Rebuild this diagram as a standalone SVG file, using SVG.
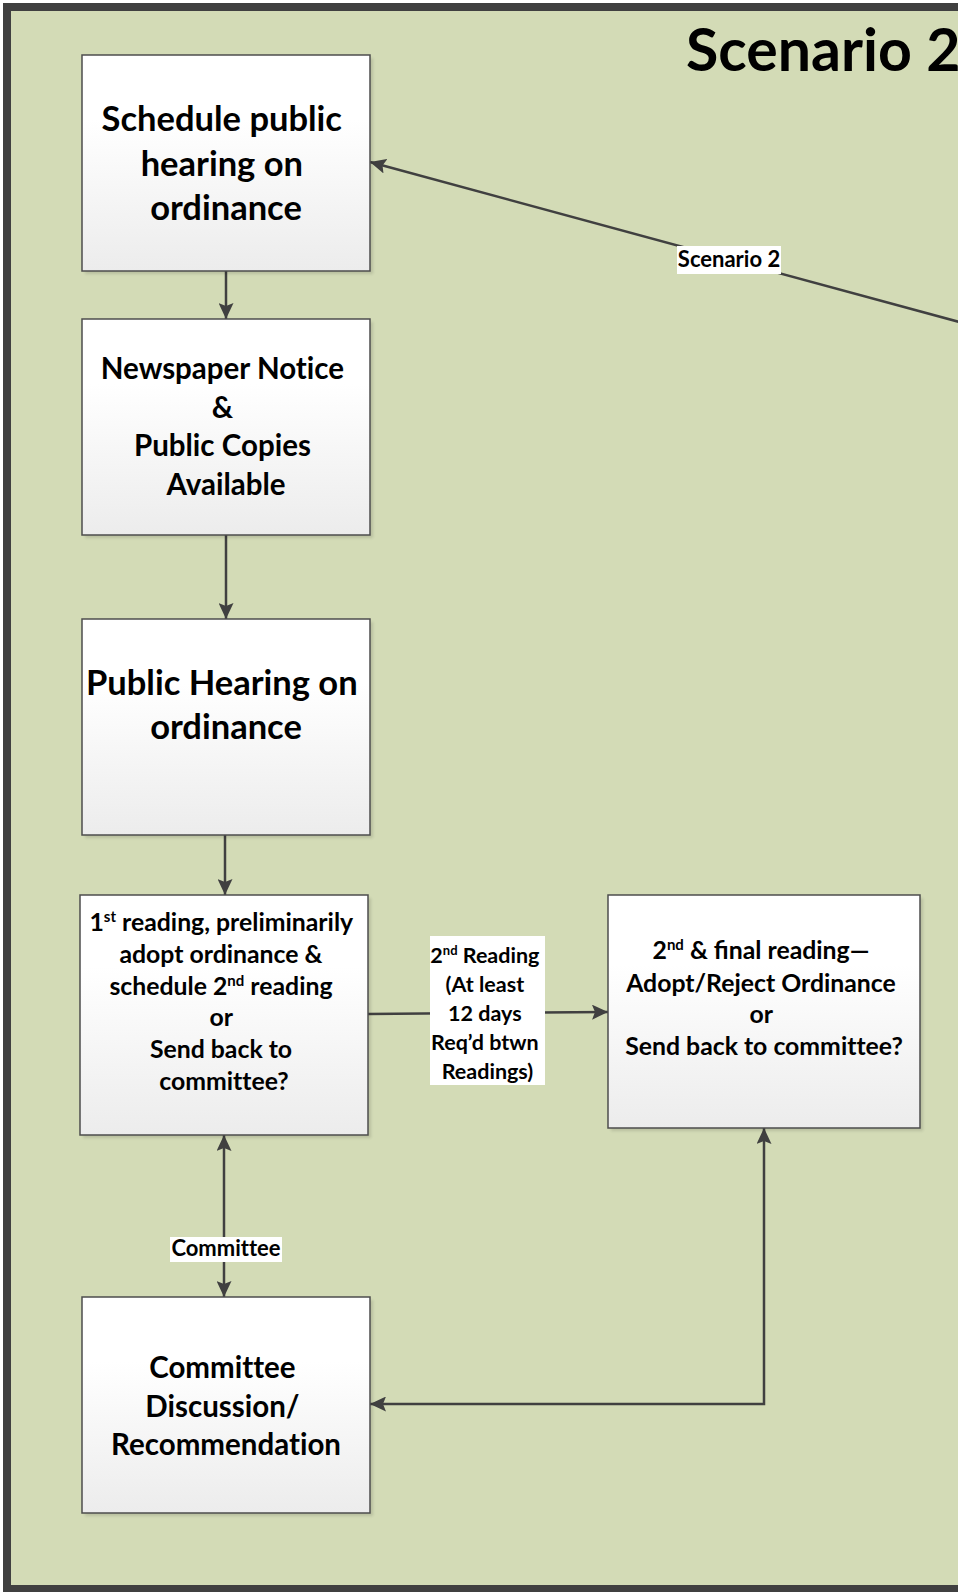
<svg xmlns="http://www.w3.org/2000/svg" width="958" height="1592" viewBox="0 0 958 1592">
<style>
  .box { fill: url(#boxGrad); stroke: #4d4d4d; stroke-width: 1.5; }
  .shadow { fill: #000; opacity: 0.12; filter: url(#blur); }
  .t { font-family: Lato, "Liberation Sans", sans-serif; font-weight: bold; fill: #000; text-anchor: middle; font-variant-ligatures: no-common-ligatures; }
  .lig { font-variant-ligatures: common-ligatures; }
  .conn { fill: none; stroke: #404040; stroke-width: 2.5; }
  .lbl { fill: #fff; }
</style>
<defs>
  <linearGradient id="boxGrad" x1="0" y1="0" x2="0" y2="1">
    <stop offset="0" stop-color="#ffffff"/>
    <stop offset="0.3" stop-color="#ffffff"/>
    <stop offset="1" stop-color="#ececec"/>
  </linearGradient>
  <filter id="blur" x="-10%" y="-10%" width="120%" height="120%">
    <feGaussianBlur stdDeviation="1.5"/>
  </filter>
  <marker id="arr" viewBox="0 0 16 15" refX="16" refY="7.5" markerWidth="16" markerHeight="15" markerUnits="userSpaceOnUse" orient="auto-start-reverse">
    <path d="M0,0 L16,7.5 L0,15 L3,7.5 z" fill="#404040"/>
  </marker>
</defs>

<rect id="frame" x="7" y="7" width="1010" height="1582" fill="#d3dbb6" stroke="#404040" stroke-width="8"/>

<text id="title" class="t" x="686" y="71" style="text-anchor:start" font-size="59">Scenario 2</text>

<g id="connectors">
  <path class="conn" d="M226,271 V319" marker-end="url(#arr)"/>
  <path class="conn" d="M226,535 V619" marker-end="url(#arr)"/>
  <path class="conn" d="M225,835 V895" marker-end="url(#arr)"/>
  <path class="conn" d="M368,1014 L608,1012" marker-end="url(#arr)"/>
  <path class="conn" d="M224,1135 V1297" marker-start="url(#arr)" marker-end="url(#arr)"/>
  <path class="conn" d="M764,1128 V1404 H370" marker-start="url(#arr)" marker-end="url(#arr)"/>
  <path class="conn" d="M985,329 L370,162" marker-end="url(#arr)"/>
  <g id="label-scenario">
    <rect class="lbl" x="677" y="246" width="104" height="28"/>
    <text class="t" x="729" y="267" font-size="22">Scenario 2</text>
  </g>
  <g id="label-reading">
    <rect class="lbl" x="430" y="936" width="115" height="149"/>
    <text class="t" font-size="21.5">
      <tspan x="487.5" y="963">2<tspan font-size="13" dy="-8">nd</tspan><tspan dy="8"> Reading</tspan></tspan>
      <tspan x="487.5" y="992">(At least</tspan>
      <tspan x="487.5" y="1021">12 days</tspan>
      <tspan x="487.5" y="1050">Req’d btwn</tspan>
      <tspan x="487.5" y="1079">Readings)</tspan>
    </text>
  </g>
  <g id="label-committee">
    <rect class="lbl" x="170" y="1237" width="112" height="25"/>
    <text class="t" x="226" y="1256" font-size="22">Committee</text>
  </g>
</g>

<g id="node-schedule">
  <rect class="shadow" x="85" y="58" width="288" height="216"/>
  <rect class="box" x="82" y="55" width="288" height="216"/>
  <text class="t" font-size="34.5">
    <tspan x="226" y="131">Schedule public</tspan>
    <tspan x="226" y="175.5">hearing on</tspan>
    <tspan x="226" y="220">ordinance</tspan>
  </text>
</g>

<g id="node-newspaper">
  <rect class="shadow" x="85" y="322" width="288" height="216"/>
  <rect class="box" x="82" y="319" width="288" height="216"/>
  <text class="t" font-size="29.5">
    <tspan x="226" y="379">Newspaper Notice</tspan>
    <tspan x="226" y="418">&amp;</tspan>
    <tspan x="226" y="456">Public Copies</tspan>
    <tspan x="226" y="495">Available</tspan>
  </text>
</g>

<g id="node-hearing">
  <rect class="shadow" x="85" y="622" width="288" height="216"/>
  <rect class="box" x="82" y="619" width="288" height="216"/>
  <text class="t" font-size="34.5">
    <tspan x="226" y="695">Public Hearing on</tspan>
    <tspan x="226" y="739">ordinance</tspan>
  </text>
</g>

<g id="node-first-reading">
  <rect class="shadow" x="83" y="898" width="288" height="240"/>
  <rect class="box" x="80" y="895" width="288" height="240"/>
  <text class="t" font-size="24.8">
    <tspan x="224" y="931">1<tspan font-size="15" dy="-9">st</tspan><tspan dy="9"> reading, preliminarily</tspan></tspan>
    <tspan x="224" y="963">adopt ordinance &amp;</tspan>
    <tspan x="224" y="995">schedule 2<tspan font-size="15" dy="-9">nd</tspan><tspan dy="9"> reading</tspan></tspan>
    <tspan x="224" y="1026">or</tspan>
    <tspan x="224" y="1058">Send back to</tspan>
    <tspan x="224" y="1090">committee?</tspan>
  </text>
</g>

<g id="node-final-reading">
  <rect class="shadow" x="611" y="898" width="312" height="233"/>
  <rect class="box" x="608" y="895" width="312" height="233"/>
  <text class="t" font-size="24.8">
    <tspan x="764" y="959">2<tspan font-size="15" dy="-9">nd</tspan><tspan dy="9" class="lig"> &amp; final reading—</tspan></tspan>
    <tspan x="764" y="991.5">Adopt/Reject Ordinance</tspan>
    <tspan x="764" y="1023">or</tspan>
    <tspan x="764" y="1055">Send back to committee?</tspan>
  </text>
</g>

<g id="node-committee">
  <rect class="shadow" x="85" y="1300" width="288" height="216"/>
  <rect class="box" x="82" y="1297" width="288" height="216"/>
  <text class="t" font-size="29.5">
    <tspan x="226" y="1378">Committee</tspan>
    <tspan x="226" y="1416.5">Discussion/</tspan>
    <tspan x="226" y="1454.5">Recommendation</tspan>
  </text>
</g>
</svg>
